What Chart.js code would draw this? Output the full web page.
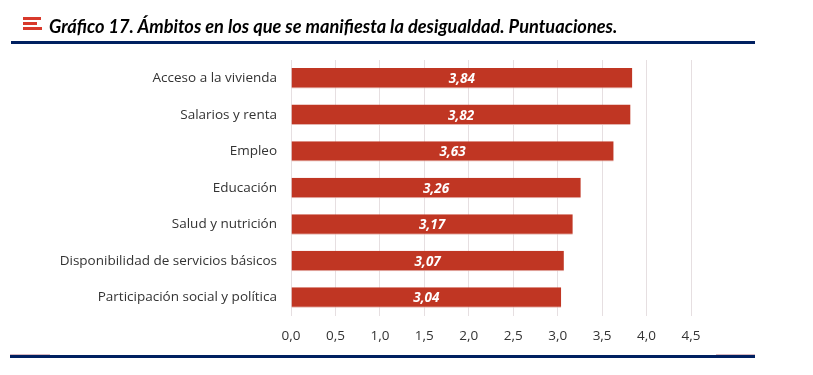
<!DOCTYPE html>
<html lang="es">

<head>
    <meta charset="UTF-8" />
    <title>Gráfico 17</title>
    <script src="https://cdn.jsdelivr.net/npm/chart.js"></script>
    <style>
        html, body { margin: 0; padding: 0; background: #fff; overflow: hidden; }
        #pagina { position: relative; width: 813px; height: 375px; }
        #grafico { position: absolute; left: 0; top: 0; }
        #titulo {
            position: absolute; left: 49px; top: 15px; white-space: nowrap;
            font: italic 700 18.2px Lato, sans-serif; color: #000;
        }
        .raya { position: absolute; background: #002060; }
        .icono { position: absolute; left: 23px; height: 3px; background: #d8392b; }
        .rosa { position: absolute; top: 354px; height: 1px; background: #d9b8c0; }
    </style>
</head>

<body>
    <div id="pagina">
        <canvas id="grafico" width="813" height="375"></canvas>
        <div class="icono" style="top:17px;width:18px"></div>
        <div class="icono" style="top:22px;width:14px"></div>
        <div class="icono" style="top:27px;width:19px"></div>
        <div id="titulo">Gráfico 17. Ámbitos en los que se manifiesta la desigualdad. Puntuaciones.</div>
        <div class="raya" style="left:11px;top:41px;width:744px;height:3px"></div>
        <div class="rosa" style="left:10px;width:40px"></div>
        <div class="rosa" style="left:716px;width:39px"></div>
        <div class="raya" style="left:10px;top:355px;width:745px;height:3px"></div>
    </div>

    <script>
        const categorias = [
            "Acceso a la vivienda",
            "Salarios y renta",
            "Empleo",
            "Educación",
            "Salud y nutrición",
            "Disponibilidad de servicios básicos",
            "Participación social y política"
        ];
        const puntuaciones = [3.84, 3.82, 3.63, 3.26, 3.17, 3.07, 3.04];

        function coma(valor, decimales) {
            return valor.toFixed(decimales).replace(".", ",");
        }

        // etiquetas blancas centradas dentro de cada barra
        const etiquetasBarras = {
            id: "etiquetasBarras",
            afterDatasetsDraw(chart) {
                const ctx = chart.ctx;
                ctx.save();
                ctx.font = "italic 700 13.5px 'Open Sans', sans-serif";
                ctx.fillStyle = "#fff";
                ctx.textAlign = "center";
                ctx.textBaseline = "middle";
                chart.getDatasetMeta(0).data.forEach((barra, i) => {
                    const centro = barra.getCenterPoint();
                    ctx.fillText(coma(puntuaciones[i], 2), centro.x, centro.y + 1);
                });
                ctx.restore();
            }
        };

        new Chart(document.getElementById("grafico"), {
            type: "bar",
            data: {
                labels: categorias,
                datasets: [{
                    data: puntuaciones,
                    backgroundColor: "#c03623",
                    borderColor: "#e3b3ad",
                    borderWidth: { top: 0, bottom: 1, left: 0, right: 0 },
                    borderSkipped: false,
                    categoryPercentage: 1,
                    barPercentage: 0.56
                }]
            },
            options: {
                indexAxis: "y",
                responsive: false,
                animation: false,
                layout: { padding: { top: 60, right: 122, bottom: 19, left: 0 } },
                plugins: {
                    legend: { display: false },
                    tooltip: { enabled: false }
                },
                scales: {
                    x: {
                        min: 0,
                        max: 4.5,
                        border: { display: false },
                        grid: { color: "#e6dfe1", drawTicks: false },
                        ticks: {
                            stepSize: 0.5,
                            padding: 12,
                            color: "#333",
                            font: { family: "'Open Sans', sans-serif", size: 13.5 },
                            maxRotation: 0,
                            callback: v => coma(v, 1)
                        }
                    },
                    y: {
                        border: { display: false },
                        grid: { display: false },
                        afterFit(escala) { escala.width = 291; },
                        ticks: {
                            padding: 6,
                            color: "#333",
                            font: { family: "'Open Sans', sans-serif", size: 13.5 }
                        }
                    }
                }
            },
            plugins: [etiquetasBarras]
        });
    </script>
</body>

</html>
